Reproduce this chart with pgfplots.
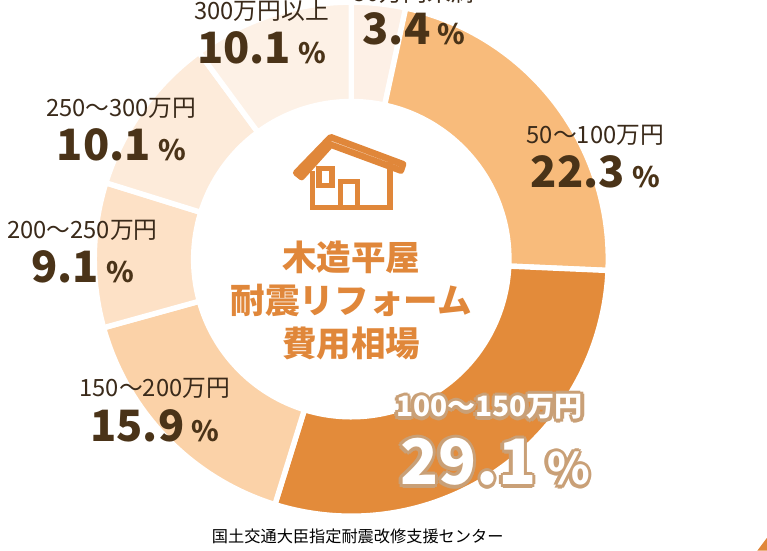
\documentclass[border=0pt]{standalone}
\usepackage{pgfplots}
\usepackage{pgfplotstable}
\pgfplotsset{compat=1.18}
\usepackage{fontspec}
\setmainfont{Noto Sans CJK JP}
\definecolor{c1}{HTML}{FDF0E6}
\definecolor{c2}{HTML}{F8BB7B}
\definecolor{c3}{HTML}{E38B3A}
\definecolor{c4}{HTML}{FBD2A8}
\definecolor{c5}{HTML}{FDE1C6}
\definecolor{c6}{HTML}{FDEBDA}
\definecolor{c7}{HTML}{FDF1E6}
\definecolor{brn}{HTML}{4A3318}
\definecolor{txt}{HTML}{3A2A1A}
\definecolor{org}{HTML}{E0873A}
\definecolor{tan}{HTML}{C9A077}
\pgfplotstableread{
pct col
3.4 c1
22.3 c2
29.1 c3
15.9 c4
9.1 c5
10.1 c6
10.1 c7
}\piedata
\newcommand\lab[4]{% x y name pct
  \node[txt,font=\fontsize{11}{12}\selectfont] at (axis cs:#1,{510-#2}) {#3};
  \node[brn,font=\fontsize{20}{22}\selectfont\bfseries] at (axis cs:#1,{510-#2-34}) {#4\,{\fontsize{13}{14}\selectfont\%}};}
\newcommand\onode[5]{\node[tan,font=#4] at ([shift={#5}]axis cs:#1,{510-#2}) {#3};}
\newcommand\olab[4]{%
  \onode{#1}{#2}{#3}{#4}{(1.6pt,0pt)}\onode{#1}{#2}{#3}{#4}{(-1.6pt,0pt)}%
  \onode{#1}{#2}{#3}{#4}{(0pt,1.6pt)}\onode{#1}{#2}{#3}{#4}{(0pt,-1.6pt)}%
  \onode{#1}{#2}{#3}{#4}{(1.1pt,1.1pt)}\onode{#1}{#2}{#3}{#4}{(-1.1pt,1.1pt)}%
  \onode{#1}{#2}{#3}{#4}{(1.1pt,-1.1pt)}\onode{#1}{#2}{#3}{#4}{(-1.1pt,-1.1pt)}%
  \node[white,font=#4] at (axis cs:#1,{510-#2}) {#3};}
\begin{document}
\begin{tikzpicture}
\begin{axis}[at={(0,0)},anchor=origin,x=0.5pt,y=0.5pt,scale only axis,
  xmin=0,xmax=767,ymin=0,ymax=510,hide axis,clip=true,width=383.5pt,height=255pt]
\def\cx{382}\def\cy{270}
\gdef\acc{90}
\pgfplotsinvokeforeach{0,...,6}{
  \pgfplotstablegetelem{#1}{pct}\of\piedata \xdef\p{\pgfplotsretval}
  \pgfplotstablegetelem{#1}{col}\of\piedata \xdef\c{\pgfplotsretval}
  \pgfmathsetmacro\b{\acc-3.6*\p}
  \edef\temp{\noexpand\filldraw[fill=\c,draw=white,line width=2.5pt]
    (axis cs:{\cx+238*cos(\acc)},{\cy+238*sin(\acc)}) arc[start angle=\acc,end angle=\b,radius=119pt]
    -- (axis cs:{\cx+146*cos(\b)},{\cy+146*sin(\b)}) arc[start angle=\b,end angle=\acc,radius=73pt] -- cycle;}
  \temp
  \xdef\acc{\b}
}
% house icon
\draw[org,line width=3pt,line join=round] (axis cs:331,{510-160}) -- (axis cs:363,{510-127}) -- (axis cs:430,{510-152}) -- (axis cs:428,{510-158}) -- (axis cs:363,{510-134}) -- (axis cs:336,{510-164}) -- cycle;
\draw[org,line width=2.5pt] (axis cs:346,{510-158}) -- (axis cs:346,{510-192}) -- (axis cs:418,{510-192}) -- (axis cs:418,{510-150});
\draw[org,line width=2.5pt] (axis cs:352,{510-156}) rectangle (axis cs:364,{510-172});
\draw[org,line width=2.5pt] (axis cs:372,{510-192}) -- (axis cs:372,{510-168}) -- (axis cs:388,{510-168}) -- (axis cs:388,{510-192});
% center text
\node[org,font=\fontsize{16}{18}\selectfont\bfseries,align=center] at (axis cs:382,{510-278}) {木造平屋\\[2pt]耐震リフォーム\\[2pt]費用相場};
\lab{440}{-7}{50万円未満}{3.4}
\lab{299}{10}{300万円以上}{10.1}
\lab{169}{100}{250～300万円}{10.1}
\lab{133}{213}{200～250万円}{9.1}
\lab{608}{125}{50～100万円}{22.3}
\lab{200}{360}{150～200万円}{15.9}
\olab{510}{377}{100～150万円}{\fontsize{13}{14}\selectfont\bfseries}
\olab{515}{428}{29.1\,{\fontsize{20}{20}\selectfont\%}}{\fontsize{29}{30}\selectfont\bfseries}
\node[black,font=\fontsize{7.5}{8}\selectfont] at (axis cs:388,{510-497}) {国土交通大臣指定耐震改修支援センター};
\fill[org] (axis cs:758,0) -- (axis cs:767,12) -- (axis cs:767,0) -- cycle;
\end{axis}
\end{tikzpicture}
\end{document}
